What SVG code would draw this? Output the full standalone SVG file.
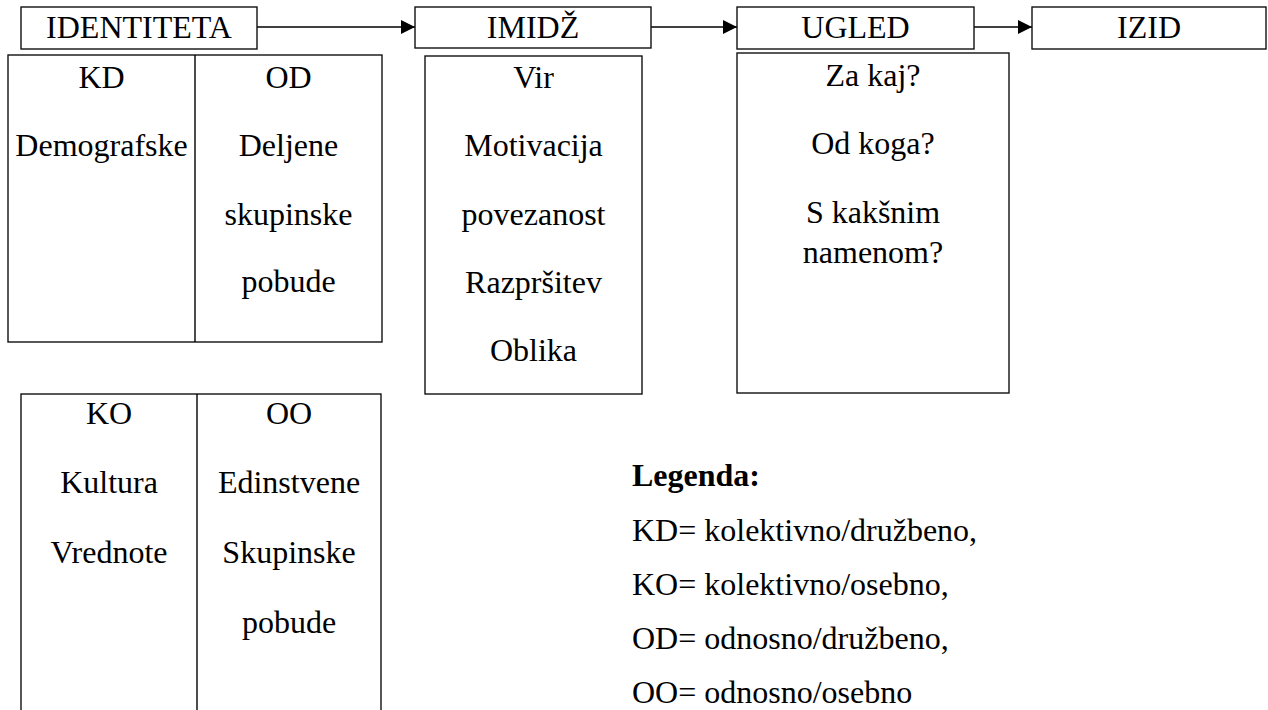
<svg xmlns="http://www.w3.org/2000/svg" width="1268" height="710" viewBox="0 0 1268 710">
<style>
text{font-size:32px;fill:#000;text-anchor:middle}
.box{fill:#fff;stroke:#111;stroke-width:1.4}
.conn{stroke:#000;stroke-width:1.4;fill:none}
.leg{text-anchor:start}
.b{font-weight:bold}
</style>
<defs>
<marker id="ah" viewBox="0 0 14 14" refX="14" refY="7" markerWidth="14" markerHeight="14" markerUnits="userSpaceOnUse" orient="auto">
<path d="M0,0 L14,7 L0,14 Z" fill="#000"/>
</marker>
</defs>
<rect width="1268" height="710" fill="#fff"/>
<g id="connectors">
<line class="conn" x1="257" y1="27" x2="415" y2="27" marker-end="url(#ah)"/>
<line class="conn" x1="651" y1="27" x2="737" y2="27" marker-end="url(#ah)"/>
<line class="conn" x1="974" y1="27" x2="1032" y2="27" marker-end="url(#ah)"/>
</g>
<g font-family="Liberation Serif, Times New Roman, Tinos, DejaVu Serif, serif">
<g id="identiteta">
<rect class="box" x="21" y="7" width="236" height="42"/>
<text x="139" y="38">IDENTITETA</text>
</g>
<g id="imidz">
<rect class="box" x="415" y="7" width="236" height="41"/>
<text x="533" y="38">IMIDŽ</text>
</g>
<g id="ugled">
<rect class="box" x="737" y="7" width="237" height="42"/>
<text x="855.5" y="38">UGLED</text>
</g>
<g id="izid">
<rect class="box" x="1032" y="7" width="234" height="42"/>
<text x="1149" y="38">IZID</text>
</g>
<g id="kd-od">
<rect class="box" x="8" y="55" width="374" height="287"/>
<line class="conn" x1="195" y1="55" x2="195" y2="342"/>
<text x="101.5" y="88">KD</text>
<text x="101.5" y="156">Demografske</text>
<text x="288.5" y="88">OD</text>
<text x="288.5" y="156">Deljene</text>
<text x="288.5" y="225">skupinske</text>
<text x="288.5" y="292">pobude</text>
</g>
<g id="imidz-content">
<rect class="box" x="425" y="56" width="217" height="338"/>
<text x="533.5" y="88">Vir</text>
<text x="533.5" y="156">Motivacija</text>
<text x="533.5" y="225">povezanost</text>
<text x="533.5" y="293">Razpršitev</text>
<text x="533.5" y="361">Oblika</text>
</g>
<g id="ugled-content">
<rect class="box" x="737" y="53" width="272" height="340"/>
<text x="873" y="86">Za kaj?</text>
<text x="873" y="154">Od koga?</text>
<text x="873" y="223">S kakšnim</text>
<text x="873" y="263">namenom?</text>
</g>
<g id="ko-oo">
<rect class="box" x="21" y="394" width="360" height="330"/>
<line class="conn" x1="197" y1="394" x2="197" y2="710"/>
<text x="109" y="424">KO</text>
<text x="109" y="493">Kultura</text>
<text x="109" y="563">Vrednote</text>
<text x="289" y="424">OO</text>
<text x="289" y="493">Edinstvene</text>
<text x="289" y="563">Skupinske</text>
<text x="289" y="633">pobude</text>
</g>
<g id="legenda">
<text class="leg b" x="632" y="486">Legenda:</text>
<text class="leg" x="632" y="541">KD= kolektivno/družbeno,</text>
<text class="leg" x="632" y="595">KO= kolektivno/osebno,</text>
<text class="leg" x="632" y="649">OD= odnosno/družbeno,</text>
<text class="leg" x="632" y="703">OO= odnosno/osebno</text>
</g>
</g>
</svg>
